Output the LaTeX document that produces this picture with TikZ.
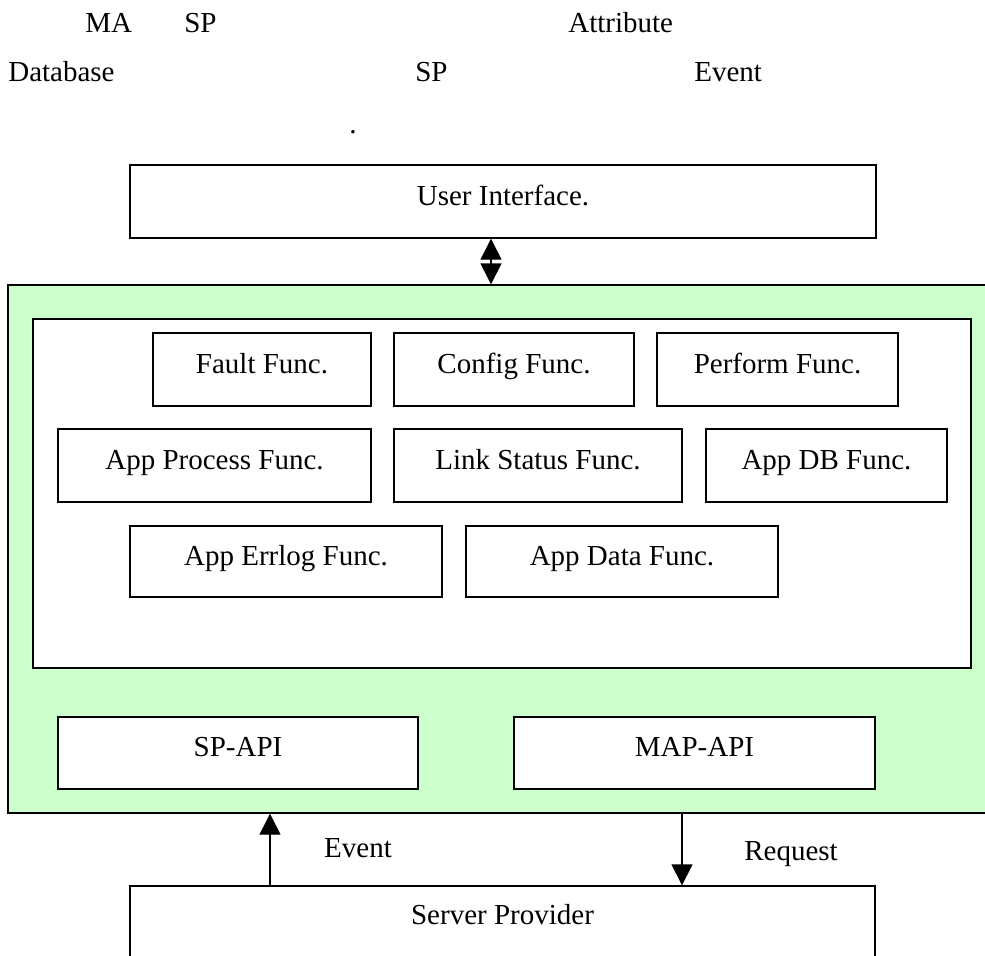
\documentclass[tikz,border=0pt]{standalone}
\usepackage{fontspec}
\setmainfont{Liberation Serif}
\usetikzlibrary{arrows.meta}
\definecolor{magreen}{HTML}{CCFFCC}
\tikzset{
  box/.style={draw,line width=0.8pt,fill=white,inner sep=0pt,minimum height=1.46cm,text height=0.4cm,text depth=0.26cm},
  flow/.style={line width=0.8pt,-{Triangle[width=0.42cm,length=0.42cm]}},
  txt/.style={anchor=base west,inner sep=0pt}
}
\begin{document}
\begin{tikzpicture}[font=\fontsize{16.5}{20}\selectfont]
      \clip (0,0) rectangle (19.7,-19.1);
      \node[txt] (ma) at (1.7,-0.64) {MA};
      \node[txt] (sp1) at (3.68,-0.64) {SP};
      \node[txt] (attr) at (11.36,-0.64) {Attribute};
      \node[txt] (db) at (0.16,-1.62) {Database};
      \node[txt] (sp2) at (8.3,-1.62) {SP};
      \node[txt] (ev1) at (13.88,-1.62) {Event};
      \node[txt] (dot) at (6.98,-2.66) {.};
      \node[box,minimum width=14.92cm] (ui) at (10.06,-4.03) {User Interface.};
      \node[draw,line width=0.8pt,fill=magreen,minimum width=20.36cm,minimum height=10.56cm] (mab) at (10.34,-10.98) {};
      \node[box,minimum width=18.76cm,minimum height=6.98cm] (func) at (10.04,-9.87) {};
      \node[box,minimum width=4.36cm] (fault) at (5.24,-7.39) {Fault Func.};
      \node[box,minimum width=4.8cm] (config) at (10.28,-7.39) {Config Func.};
      \node[box,minimum width=4.82cm] (perf) at (15.55,-7.39) {Perform Func.};
      \node[box,minimum width=6.26cm] (proc) at (4.29,-9.31) {App Process Func.};
      \node[box,minimum width=5.76cm] (link) at (10.76,-9.31) {Link Status Func.};
      \node[box,minimum width=4.82cm] (appdb) at (16.53,-9.31) {App DB Func.};
      \node[box,minimum width=6.24cm,minimum height=1.42cm] (errlog) at (5.72,-11.23) {App Errlog Func.};
      \node[box,minimum width=6.24cm,minimum height=1.42cm] (data) at (12.44,-11.23) {App Data Func.};
      \node[box,minimum width=7.2cm,minimum height=1.44cm] (spapi) at (4.76,-15.06) {SP-API};
      \node[box,minimum width=7.22cm,minimum height=1.44cm] (mapapi) at (13.89,-15.06) {MAP-API};
      \node[box,minimum width=14.9cm,minimum height=2.4cm] (prov) at (10.05,-18.92) {};
      \node[anchor=base] (provtxt) at (10.05,-18.48) {Server Provider};
      \coordinate (uix) at (9.82,0);
      \coordinate (evx) at (5.4,0);
      \coordinate (rqx) at (13.64,0);
      \draw[flow,{Triangle[width=0.42cm,length=0.42cm]}-{Triangle[width=0.42cm,length=0.42cm]}] (ui.south -| uix) -- (mab.north -| uix);
      \draw[flow] (prov.north -| evx) -- (mab.south -| evx);
      \draw[flow] (mab.south -| rqx) -- (prov.north -| rqx);
      \node[txt,anchor=base] (evlab) at (7.16,-17.14) {Event};
      \node[txt,anchor=base] (rqlab) at (15.82,-17.2) {Request};
    \end{tikzpicture}
\end{document}
